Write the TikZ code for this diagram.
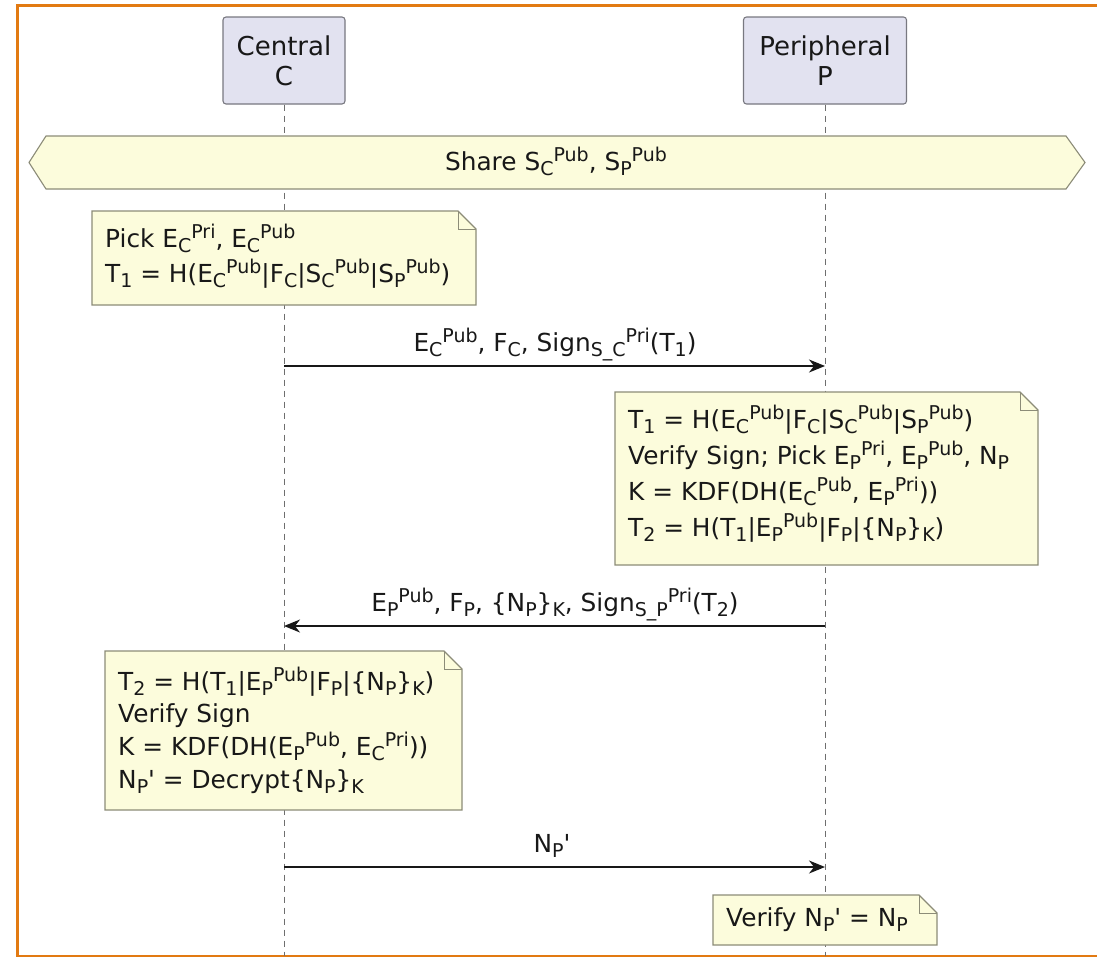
\documentclass[tikz,border=0pt]{standalone}
\usepackage{fontspec}
\setmainfont{DejaVu Sans}
\usetikzlibrary{arrows.meta}

\definecolor{frameorange}{RGB}{226,122,18}
\definecolor{actorfill}{RGB}{226,226,240}
\definecolor{actorline}{RGB}{120,120,128}
\definecolor{notefill}{RGB}{252,252,220}
\definecolor{noteline}{RGB}{140,140,120}
\definecolor{inkdark}{RGB}{24,24,24}
\definecolor{lifegray}{RGB}{110,110,110}

% raised / lowered script text, set one after the other as in the notes
\newcommand\hi[1]{\raisebox{0.33em}{\fontsize{19}{19}\selectfont #1}}
\newcommand\lo[1]{\raisebox{-0.22em}{\fontsize{19}{19}\selectfont #1}}
\newcommand\q{\textquotesingle}

% a note with a folded top-right corner
\newcommand\notebox[4]{%
  \draw[noteshape] (#1,#2) -- (#3-18,#2) -- (#3,#2+18) -- (#3,#4) -- (#1,#4) -- cycle;
  \draw[noteline, line width=1pt] (#3-18,#2) -- (#3-18,#2+18) -- (#3,#2+18);}

\tikzset{
  actor/.style={draw=actorline, fill=actorfill, line width=1.1pt, rounded corners=3pt,
    align=center, text=inkdark, font=\fontsize{26}{30}\selectfont, inner sep=0pt},
  lifeline/.style={draw=lifegray, line width=0.9pt, dash pattern=on 6pt off 5pt},
  noteshape/.style={draw=noteline, fill=notefill, line width=1.1pt},
  txt/.style={anchor=base west, inner sep=0pt, text=inkdark, font=\fontsize{24.8}{28}\selectfont},
  msglabel/.style={anchor=base, inner sep=0pt, text=inkdark, font=\fontsize{24.8}{28}\selectfont},
  msg/.style={draw=inkdark, line width=1.4pt, -{Stealth[length=16pt, width=13pt, inset=5pt]}}
}

\begin{document}
\begin{tikzpicture}[x=1pt, y=-1pt]
\useasboundingbox (0,0) rectangle (1097,956);
\clip (0,0) rectangle (1097,956);
\fill[white] (0,0) rectangle (1097,956);

% frame, open towards the right
\draw[frameorange, line width=3pt] (1100,956.8) -- (17.5,956.8) -- (17.5,5.5) -- (1100,5.5);

% participants
\node[actor, minimum width=122pt, minimum height=87pt] (C) at (284,60.5) {Central\\C};
\node[actor, minimum width=163pt, minimum height=87pt] (P) at (825,60.5) {Peripheral\\P};

% lifelines
\coordinate (Cend) at (284,956);
\coordinate (Pend) at (825,956);
\draw[lifeline] (C.south) -- (Cend);
\draw[lifeline] (P.south) -- (Pend);

% shared keys bar
\draw[noteshape] (29,162.5) -- (46,136) -- (1066,136) -- (1085,162.5) -- (1066,189) -- (46,189) -- cycle;
\node[msglabel] (share) at (556,170) {Share S\lo{C}\hi{Pub}, S\lo{P}\hi{Pub}};

% central picks its ephemeral key
\notebox{92}{211}{476}{305}
\node[txt] (n1a) at (105,247) {Pick E\lo{C}\hi{Pri}, E\lo{C}\hi{Pub}};
\node[txt] (n1b) at (105,282) {T\lo{1} = H(E\lo{C}\hi{Pub}|F\lo{C}|S\lo{C}\hi{Pub}|S\lo{P}\hi{Pub})};

% message 1
\coordinate (c1) at (284,366);
\coordinate (p1) at (825,366);
\draw[msg] (c1) -- (p1);
\node[msglabel] (m1) at (555,351) {E\lo{C}\hi{Pub}, F\lo{C}, Sign\lo{S\_C}\hi{Pri}(T\lo{1})};

% peripheral side
\notebox{615}{392}{1038}{565}
\node[txt] (n2a) at (628,428) {T\lo{1} = H(E\lo{C}\hi{Pub}|F\lo{C}|S\lo{C}\hi{Pub}|S\lo{P}\hi{Pub})};
\node[txt] (n2b) at (628,464) {Verify Sign; Pick E\lo{P}\hi{Pri}, E\lo{P}\hi{Pub}, N\lo{P}};
\node[txt] (n2c) at (628,500) {K = KDF(DH(E\lo{C}\hi{Pub}, E\lo{P}\hi{Pri}))};
\node[txt] (n2d) at (628,536) {T\lo{2} = H(T\lo{1}|E\lo{P}\hi{Pub}|F\lo{P}|\{N\lo{P}\}\lo{K})};

% message 2
\coordinate (p2) at (825,626);
\coordinate (c2) at (284,626);
\draw[msg] (p2) -- (c2);
\node[msglabel] (m2) at (555,611) {E\lo{P}\hi{Pub}, F\lo{P}, \{N\lo{P}\}\lo{K}, Sign\lo{S\_P}\hi{Pri}(T\lo{2})};

% central side
\notebox{105}{651}{462}{810}
\node[txt] (n3a) at (118,690) {T\lo{2} = H(T\lo{1}|E\lo{P}\hi{Pub}|F\lo{P}|\{N\lo{P}\}\lo{K})};
\node[txt] (n3b) at (118,722) {Verify Sign};
\node[txt] (n3c) at (118,755) {K = KDF(DH(E\lo{P}\hi{Pub}, E\lo{C}\hi{Pri}))};
\node[txt] (n3d) at (118,788) {N\lo{P}\q{} = Decrypt\{N\lo{P}\}\lo{K}};

% message 3
\coordinate (c3) at (284,867);
\coordinate (p3) at (825,867);
\draw[msg] (c3) -- (p3);
\node[msglabel] (m3) at (552,852) {N\lo{P}\q};

% final check
\notebox{713}{895}{937}{945}
\node[txt] (n4) at (726,926) {Verify N\lo{P}\q{} = N\lo{P}};
\end{tikzpicture}
\end{document}
